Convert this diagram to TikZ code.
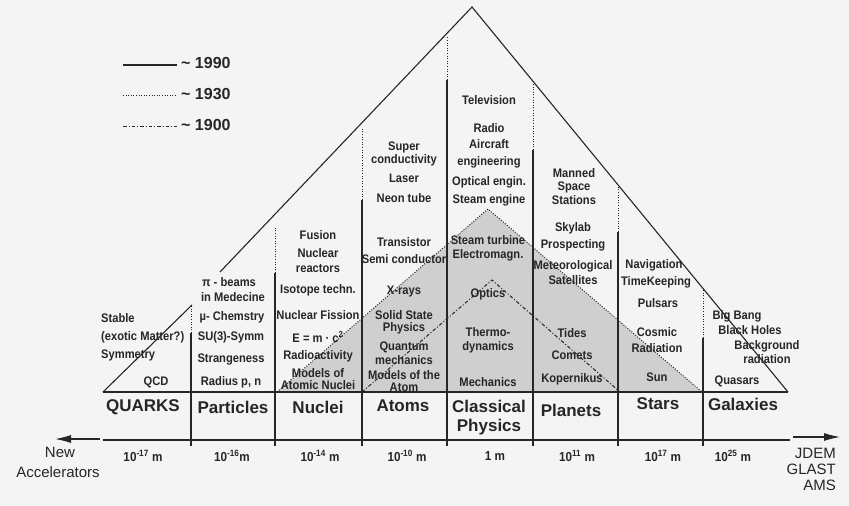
\documentclass[tikz,border=0pt]{standalone}
\usepackage{fontspec}
\setmainfont{Liberation Sans}
\newfontfamily\condfont{Liberation Sans}[FakeStretch=0.9]
\usetikzlibrary{arrows.meta}
\definecolor{bg}{HTML}{F4F4F4}
\definecolor{shadegray}{HTML}{CFCFCF}
\definecolor{ink}{HTML}{262626}
\begin{document}
\begin{tikzpicture}[x=1pt,y=-1pt,
  lbl/.style={font=\condfont\bfseries\fontsize{12.4}{13}\selectfont, inner sep=0pt, text=ink},
  rowlbl/.style={font=\bfseries\fontsize{17}{19}\selectfont, inner sep=0pt, text=ink, align=center},
  scl/.style={font=\condfont\bfseries\fontsize{13}{14}\selectfont, inner sep=0pt, text=ink},
  side/.style={font=\fontsize{15}{16}\selectfont, inner sep=0pt, text=ink},
  leg/.style={font=\bfseries\fontsize{16}{18}\selectfont, inner sep=0pt, anchor=west, text=ink},
  solidl/.style={draw=ink, line width=1.1pt},
  dotl/.style={draw=ink, line width=1pt, dash pattern=on 1pt off 1.6pt},
  dashdotl/.style={draw=ink, line width=1pt, dash pattern=on 3.5pt off 2pt on 1pt off 2pt},
  arr/.style={-{Latex[length=16pt,width=8pt]}}
]
\useasboundingbox (0,0) rectangle (849,506);
\fill[bg] (0,0) rectangle (849,506);

% eras
\coordinate (d1) at (277,392); \coordinate (d2) at (488,209); \coordinate (d3) at (702,392);
\coordinate (c1) at (362,392); \coordinate (c2) at (492,280); \coordinate (c3) at (620,392);
\fill[shadegray] (d1) -- (d2) -- (d3) -- cycle;
\draw[dotl] (d1) -- (d2) -- (d3);
\draw[dashdotl] (c1) -- (c2) -- (c3);

% 1990 outline
\coordinate (q1) at (103,392); \coordinate (q2) at (192,305);
\coordinate (s1) at (220,272); \coordinate (apex) at (472,7); \coordinate (s2) at (788,392);
\draw[solidl] (q1) -- (q2);
\draw[solidl] (s1) -- (apex) -- (s2);
\draw[solidl] (q1) -- (s2);

% column dividers
\foreach \x/\t/\d in {191/333/305, 275/273/228, 362/200/128, 447/80/36, 533/150/83, 618/232/185, 703/338/290}{
  \draw[solidl] (\x,446) -- (\x,\t);
  \draw[dotl] (\x,\t) -- (\x,\d);
}

% axis
\coordinate (ax1) at (103,440); \coordinate (ax2) at (790,440);
\draw[solidl] (ax1) -- (ax2);
\coordinate (la1) at (100,439); \coordinate (la2) at (55,439);
\coordinate (ra1) at (793,437); \coordinate (ra2) at (840,437);
\draw[solidl,arr] (la1) -- (la2);
\draw[solidl,arr] (ra1) -- (ra2);

% legend
\coordinate (g1a) at (123,65); \coordinate (g1b) at (177,65);
\coordinate (g2a) at (123,95); \coordinate (g2b) at (177,95);
\coordinate (g3a) at (123,126); \coordinate (g3b) at (177,126);
\draw[solidl] (g1a) -- (g1b);
\draw[dotl] (g2a) -- (g2b);
\draw[dashdotl] (g3a) -- (g3b);
\node[leg] (leg1) at (181,63) {\string~ 1990};
\node[leg] (leg2) at (181,94) {\string~ 1930};
\node[leg] (leg3) at (181,125) {\string~ 1900};

% row labels
\node[rowlbl] (rq) at (143,407) {QUARKS};
\node[rowlbl] (rp) at (233,407) {Particles};
\node[rowlbl] (rn) at (318,407) {Nuclei};
\node[rowlbl] (ra) at (403,406) {Atoms};
\node[rowlbl] (rc) at (489,418) {Classical\\Physics};
\node[rowlbl] (rpl) at (571,410) {Planets};
\node[rowlbl] (rs) at (658,404) {Stars};
\node[rowlbl] (rg) at (743,404) {Galaxies};

% scale
\node[scl] (m1) at (143,456) {10\textsuperscript{-17} m};
\node[scl] (m2) at (232,456) {10\textsuperscript{-16}m};
\node[scl] (m3) at (320,456) {10\textsuperscript{-14} m};
\node[scl] (m4) at (407,456) {10\textsuperscript{-10} m};
\node[scl] (m5) at (495,456) {1 m};
\node[scl] (m6) at (577,456) {10\textsuperscript{11} m};
\node[scl] (m7) at (663,456) {10\textsuperscript{17} m};
\node[scl] (m8) at (733,456) {10\textsuperscript{25} m};

\node[side] (na) at (60,452) {New};
\node[side] (nb) at (58,472) {Accelerators};
\node[side,anchor=east] (j1) at (836,453) {JDEM};
\node[side,anchor=east] (j2) at (836,469) {GLAST};
\node[side,anchor=east] (j3) at (836,485) {AMS};

% Quarks
\node[lbl,anchor=west] (qa) at (101,318) {Stable};
\node[lbl,anchor=west] (qb) at (101,337) {(exotic Matter?)};
\node[lbl,anchor=west] (qc) at (101,355) {Symmetry};
\node[lbl] (qd) at (156,382) {QCD};

% Particles
\node[lbl] (pa) at (229,282) {π - beams};
\node[lbl] (pb) at (233,297) {in Medecine};
\node[lbl] (pc) at (232,317) {µ- Chemstry};
\node[lbl] (pd) at (231,337) {SU(3)-Symm};
\node[lbl] (pe) at (231,359) {Strangeness};
\node[lbl] (pf) at (231,382) {Radius p, n};

% Nuclei
\node[lbl] (na1) at (318,235) {Fusion};
\node[lbl] (na2) at (318,253) {Nuclear};
\node[lbl] (na3) at (318,269) {reactors};
\node[lbl] (na4) at (318,290) {Isotope techn.};
\node[lbl] (na5) at (318,315) {Nuclear Fission};
\node[lbl] (na6) at (318,337) {E = m · c\textsuperscript{2}};
\node[lbl] (na7) at (318,356) {Radioactivity};
\node[lbl] (na8) at (318,373) {Models of};
\node[lbl] (na9) at (318,385) {Atomic Nuclei};

% Atoms
\node[lbl] (at1) at (404,147) {Super};
\node[lbl] (at2) at (404,160) {conductivity};
\node[lbl] (at3) at (404,178) {Laser};
\node[lbl] (at4) at (404,198) {Neon tube};
\node[lbl] (at5) at (404,242) {Transistor};
\node[lbl] (at6) at (404,259) {Semi conductor};
\node[lbl] (at7) at (404,292) {X-rays};
\node[lbl] (at8) at (404,315) {Solid State};
\node[lbl] (at9) at (404,328) {Physics};
\node[lbl] (at10) at (404,347) {Quantum};
\node[lbl] (at11) at (404,360) {mechanics};
\node[lbl] (at12) at (404,375) {Models of the};
\node[lbl] (at13) at (404,387) {Atom};

% Classical
\node[lbl] (cl1) at (489,100) {Television};
\node[lbl] (cl2) at (489,128) {Radio};
\node[lbl] (cl3) at (489,144) {Aircraft};
\node[lbl] (cl4) at (489,162) {engineering};
\node[lbl] (cl5) at (489,182) {Optical engin.};
\node[lbl] (cl6) at (489,200) {Steam engine};
\node[lbl] (cl7) at (488,240) {Steam turbine};
\node[lbl] (cl8) at (488,255) {Electromagn.};
\node[lbl] (cl9) at (488,294) {Optics};
\node[lbl] (cl10) at (488,332) {Thermo-};
\node[lbl] (cl11) at (488,347) {dynamics};
\node[lbl] (cl12) at (488,382) {Mechanics};

% Planets
\node[lbl] (pl1) at (574,173) {Manned};
\node[lbl] (pl2) at (574,187) {Space};
\node[lbl] (pl3) at (574,200) {Stations};
\node[lbl] (pl4) at (573,228) {Skylab};
\node[lbl] (pl5) at (573,245) {Prospecting};
\node[lbl] (pl6) at (573,266) {Meteorological};
\node[lbl] (pl7) at (573,280) {Satellites};
\node[lbl] (pl8) at (572,333) {Tides};
\node[lbl] (pl9) at (572,355) {Comets};
\node[lbl] (pl10) at (572,379) {Kopernikus};

% Stars
\node[lbl] (st1) at (654,265) {Navigation};
\node[lbl] (st2) at (656,282) {TimeKeeping};
\node[lbl] (st3) at (658,303) {Pulsars};
\node[lbl] (st4) at (657,332) {Cosmic};
\node[lbl] (st5) at (657,348) {Radiation};
\node[lbl] (st6) at (657,377) {Sun};

% Galaxies
\node[lbl] (ga1) at (737,316) {Big Bang};
\node[lbl] (ga2) at (750,330) {Black Holes};
\node[lbl] (ga3) at (767,346) {Background};
\node[lbl] (ga4) at (767,359) {radiation};
\node[lbl] (ga5) at (737,381) {Quasars};
\end{tikzpicture}
\end{document}
